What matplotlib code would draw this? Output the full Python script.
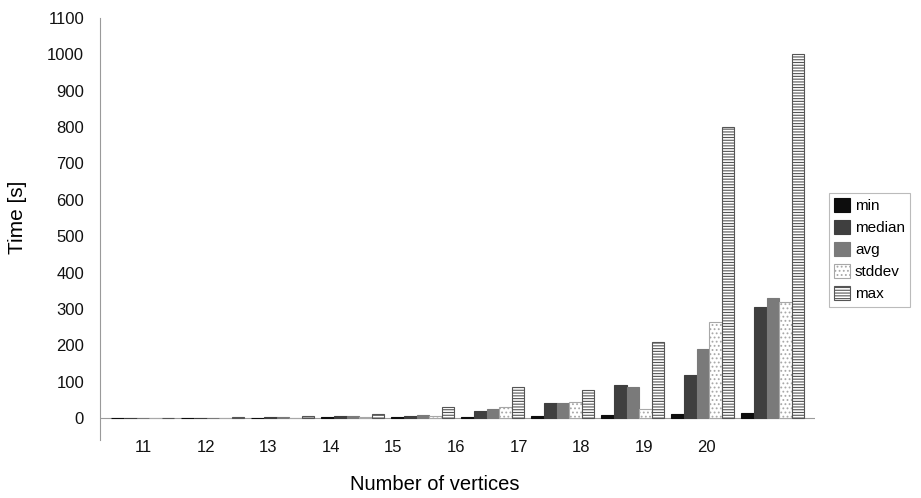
import matplotlib
matplotlib.use("Agg")
import matplotlib.pyplot as plt
import numpy as np

plt.rcParams['font.family'] = ['Liberation Sans', 'DejaVu Sans']
plt.rcParams['hatch.linewidth'] = 0.8

vertices = ["11", "12", "13", "14", "15", "16", "17", "18", "19", "20"]
t_min    = [0.1, 0.3, 1, 2, 3, 3, 5, 8, 10, 15]
t_median = [0.2, 0.5, 2, 5, 6, 18, 40, 90, 118, 305]
t_avg    = [0.3, 0.6, 2, 6, 7, 25, 42, 85, 190, 330]
t_stddev = [0.2, 0.4, 1, 3, 5, 30, 45, 25, 265, 320]
t_max    = [1, 2, 5, 10, 30, 85, 78, 210, 800, 1000]
series_names = ["min", "median", "avg", "stddev", "max"]

fig = plt.figure(figsize=(9.21, 4.98), dpi=100)
ax = fig.add_axes([100/921, (498-440)/498, 715/921, (440-18)/498])

x = np.arange(len(vertices))
w = 0.18
styles = [
    dict(color="#0d0d0d", edgecolor="#0d0d0d"),
    dict(color="#3f3f3f", edgecolor="#3f3f3f"),
    dict(color="#7a7a7a", edgecolor="#7a7a7a"),
    dict(facecolor="white", edgecolor="#a8a8a8", hatch="...."),
    dict(facecolor="white", edgecolor="#555555", hatch="------"),
]
data = [t_min, t_median, t_avg, t_stddev, t_max]
for i, (vals, st, name) in enumerate(zip(data, styles, series_names)):
    ax.bar(x + (i - 2) * w, vals, width=w, linewidth=0.8, label=name, **st)

ax.set_ylim(-60.5, 1100)
ax.set_xlim(-0.614, 9.6)
ax.set_yticks(np.arange(0, 1101, 100))
ax.set_xticks(x * 62.6 / 70)
ax.set_xticklabels(vertices)
ax.tick_params(axis='both', length=0, labelsize=12, colors="#111111")
ax.tick_params(axis='y', pad=11.5)
ax.tick_params(axis='x', pad=0)
for s in ["top", "right", "bottom"]:
    ax.spines[s].set_visible(False)
ax.spines["left"].set_color("#9a9a9a")
ax.axhline(0, color="#9a9a9a", linewidth=0.8, zorder=0)

ax.set_ylabel("Time [s]", fontsize=15)
ax.set_xlabel("Number of vertices", fontsize=14.5)
ax.yaxis.set_label_coords(-73/715, (440-217)/422)
ax.xaxis.set_label_coords((435-100)/715, -(475-440)/422)

leg = fig.legend(loc="upper left", bbox_to_anchor=(829/921, 1 - 193/498),
                 fontsize=11, frameon=True, fancybox=False, edgecolor="#aaaaaa",
                 handlelength=1.0, handleheight=1.0, handletextpad=0.35,
                 labelspacing=0.45, borderpad=0.35, borderaxespad=0)
leg.get_frame().set_linewidth(0.8)

fig.savefig("out.png", dpi=100)
